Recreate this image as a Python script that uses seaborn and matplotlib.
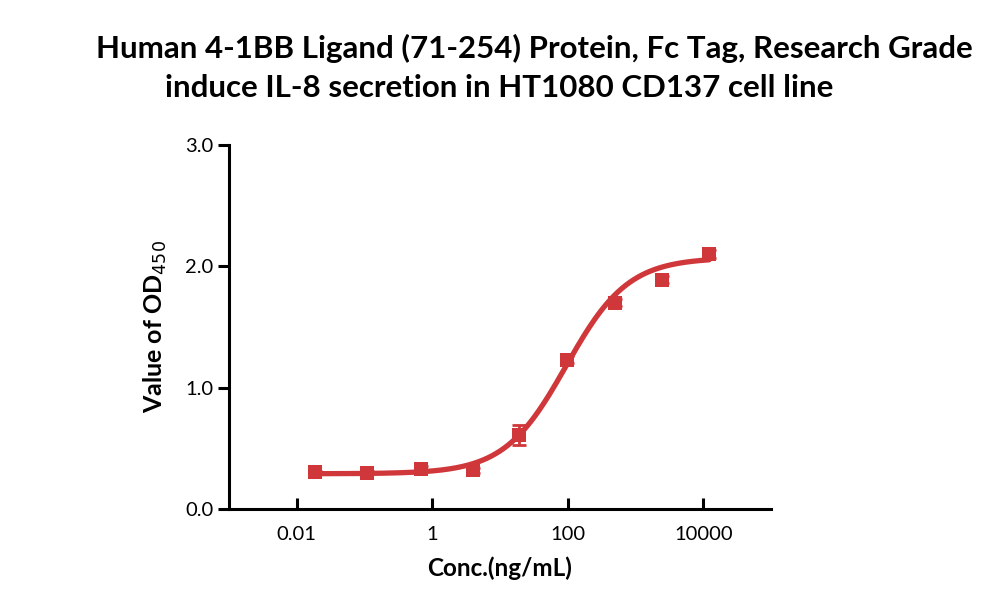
import numpy as np
import matplotlib
matplotlib.use("Agg")
import matplotlib.pyplot as plt
import seaborn as sns

# data
conc = [0.0186, 0.11, 0.68, 3.97, 19.2, 98, 490, 2450, 12200]
od450 = [0.305, 0.30, 0.33, 0.32, 0.61, 1.23, 1.70, 1.89, 2.10]
od_err = [0.01, 0.01, 0.02, 0.02, 0.08, 0.03, 0.03, 0.03, 0.03]

# 4PL fit parameters (bottom, top, EC50, hill)
fit_bottom, fit_top, fit_ec50, fit_hill = 0.29, 2.07, 95.0, 0.95

title_1 = "Human 4-1BB Ligand (71-254) Protein, Fc Tag, Research Grade"
title_2 = "induce IL-8 secretion in HT1080 CD137 cell line"
xticks = [0.01, 1, 100, 10000]
xtick_labels = ["0.01", "1", "100", "10000"]
yticks = [0.0, 1.0, 2.0, 3.0]

red = "#d0373a"

sns.set_style("ticks")
plt.rcParams["font.family"] = ["Lato", "DejaVu Sans"]
plt.rcParams["text.color"] = "black"
plt.rcParams["axes.labelcolor"] = "black"
plt.rcParams["xtick.color"] = "black"
plt.rcParams["ytick.color"] = "black"

fig = plt.figure(figsize=(10, 6.11), dpi=100)
ax = fig.add_axes([0.229, 0.167, 0.542, 0.596])

# fitted curve
xs = np.logspace(np.log10(conc[0]), np.log10(conc[-1]), 300)
ys = fit_bottom + (fit_top - fit_bottom) / (1 + (fit_ec50 / xs) ** fit_hill)
sns.lineplot(x=xs, y=ys, ax=ax, color=red, linewidth=3.8)

# points with error bars
ax.errorbar(conc, od450, yerr=od_err, fmt="none", ecolor=red,
            elinewidth=2, capsize=5, capthick=2)
sns.scatterplot(x=conc, y=od450, ax=ax, marker="s", s=115, color=red,
                edgecolor=red, linewidth=0, zorder=5)

ax.set_xscale("log")
ax.set_xlim(0.001, 100000)
ax.set_ylim(0, 3.0)
ax.set_xticks(xticks)
ax.set_xticklabels(xtick_labels)
ax.minorticks_off()
ax.set_yticks(yticks)
ax.set_yticklabels([f"{v:.1f}" for v in yticks])

for s in ["top", "right"]:
    ax.spines[s].set_visible(False)
for s in ["left", "bottom"]:
    ax.spines[s].set_linewidth(2.2)
    ax.spines[s].set_color("black")

ax.tick_params(axis="x", direction="in", length=8, width=2.2,
               labelsize=14.5, pad=12)
ax.tick_params(axis="y", direction="out", length=8, width=2.2,
               labelsize=14.5, pad=3)

ax.set_xlabel("Conc.(ng/mL)", fontsize=17.5, fontweight="bold", labelpad=10)
ax.set_ylabel("Value of OD$_{450}$", fontsize=18, fontweight="bold",
              labelpad=12)

# two title lines, not centred on each other in the reference
fig.text(0.5345, 1 - 48 / 611, title_1, ha="center", va="center",
         fontsize=22.5, fontweight="bold")
fig.text(0.499, 1 - 88 / 611, title_2, ha="center", va="center",
         fontsize=22.5, fontweight="bold")

fig.savefig("out.png", dpi=100)
